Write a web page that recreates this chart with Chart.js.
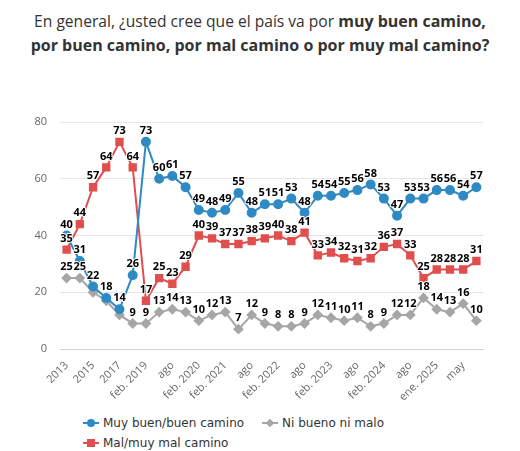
<!DOCTYPE html>
<html>
<head>
<meta charset="utf-8">
<script src="https://cdn.jsdelivr.net/npm/chart.js@4"></script>
<style>
  body { margin: 0; background: #fff; width: 520px; height: 451px; overflow: hidden; position: relative; }
  #titulo { position: absolute; top: 9px; left: 0; width: 520px; text-align: center;
    font-family: "Open Sans", sans-serif; font-size: 15.6px; line-height: 24px; color: #333; }
  #titulo b { font-weight: 700; font-size: 16px; }
  #wrap { position: absolute; top: 60px; left: 0; width: 520px; height: 350px; }
  #leyenda { position: absolute; top: 413px; left: 83px; width: 360px;
    font-family: "DejaVu Sans", sans-serif; font-size: 12px; color: #333; }
  .item { display: inline-block; margin-right: 18px; height: 20px; line-height: 20px; white-space: nowrap; }
  .ico { display: inline-block; position: relative; width: 16px; height: 10px; margin-right: 4px; vertical-align: -1px; }
  .ico .ln { position: absolute; left: 0; top: 4px; width: 16px; height: 2px; }
  .ico .mk { position: absolute; }
</style>
</head>
<body>
<div id="titulo">En general, ¿usted cree que el país va por <b>muy buen camino,<br>por buen camino, por mal camino o por muy mal camino?</b></div>
<div id="wrap"><canvas id="grafico" width="520" height="350"></canvas></div>
<div id="leyenda">
  <span class="item"><span class="ico"><span class="ln" style="background:#2f8ac4"></span><span class="mk" style="left:4px;top:1px;width:8px;height:8px;border-radius:50%;background:#2f8ac4"></span></span>Muy buen/buen camino</span><span class="item"><span class="ico"><span class="ln" style="background:#a6a6a6"></span><span class="mk" style="left:5px;top:2px;width:6px;height:6px;transform:rotate(45deg);background:#a6a6a6"></span></span>Ni bueno ni malo</span><br>
  <span class="item"><span class="ico"><span class="ln" style="background:#e04e4e"></span><span class="mk" style="left:4px;top:1px;width:8px;height:8px;background:#e04e4e"></span></span>Mal/muy mal camino</span>
</div>
<script>
  const fechas = ['2013', '2014', '2015', '2016', '2017', '2018', 'feb. 2019', 'may', 'ago', 'nov',
    'feb. 2020', 'ago', 'feb. 2021', 'may', 'ago', 'nov', 'feb. 2022', 'may', 'ago', 'nov',
    'feb. 2023', 'may', 'ago', 'nov', 'feb. 2024', 'may', 'ago', 'nov', 'ene. 2025', 'mar', 'may', 'ago'];

  const buenCamino = [40, 31, 22, 18, 14, 26, 73, 60, 61, 57, 49, 48, 49, 55, 48, 51,
    51, 53, 48, 54, 54, 55, 56, 58, 53, 47, 53, 53, 56, 56, 54, 57];
  const niBuenoNiMalo = [25, 25, 20, 17, 12, 9, 9, 13, 14, 13, 10, 12, 13, 7, 12, 9,
    8, 8, 9, 12, 11, 10, 11, 8, 9, 12, 12, 18, 14, 13, 16, 10];
  const malCamino = [35, 44, 57, 64, 73, 64, 17, 25, 23, 29, 40, 39, 37, 37, 38, 39,
    40, 38, 41, 33, 34, 32, 31, 32, 36, 37, 33, 25, 28, 28, 28, 31];

  const ticksY = [0, 20, 40, 60, 80];

  // etiquetas ocultas en el original (se solapan con la serie azul)
  const ocultas = { 1: [2, 3, 4] };

  const etiquetasDatos = {
    id: 'etiquetasDatos',
    afterDatasetsDraw(chart) {
      const ctx = chart.ctx;
      ctx.save();
      ctx.font = 'bold 11px "Open Sans", sans-serif';
      ctx.textAlign = 'center';
      ctx.textBaseline = 'middle';
      ctx.lineJoin = 'round';
      chart.data.datasets.forEach((ds, di) => {
        const meta = chart.getDatasetMeta(di);
        meta.data.forEach((pt, i) => {
          if (ocultas[di] && ocultas[di].includes(i)) return;
          const txt = String(ds.data[i]);
          const y = pt.y - 11;
          ctx.strokeStyle = '#fff';
          ctx.lineWidth = 2;
          ctx.strokeText(txt, pt.x, y);
          ctx.fillStyle = '#000';
          ctx.fillText(txt, pt.x, y);
        });
      });
      ctx.restore();
    }
  };

  const ctx = document.getElementById('grafico').getContext('2d');
  new Chart(ctx, {
    type: 'line',
    data: {
      labels: fechas,
      datasets: [
        {
          label: 'Muy buen/buen camino',
          data: buenCamino,
          borderColor: '#2f8ac4',
          backgroundColor: '#2f8ac4',
          pointStyle: 'circle',
          pointRadius: 4,
          borderWidth: 2,
          tension: 0
        },
        {
          label: 'Ni bueno ni malo',
          data: niBuenoNiMalo,
          borderColor: '#a6a6a6',
          backgroundColor: '#a6a6a6',
          pointStyle: 'rectRot',
          pointRadius: 4,
          borderWidth: 2,
          tension: 0
        },
        {
          label: 'Mal/muy mal camino',
          data: malCamino,
          borderColor: '#e04e4e',
          backgroundColor: '#e04e4e',
          pointStyle: 'rect',
          pointRadius: 4.5,
          borderWidth: 2,
          tension: 0
        }
      ]
    },
    options: {
      responsive: false,
      animation: false,
      layout: { padding: { top: 62, right: 37, left: 0, bottom: 0 } },
      plugins: {
        legend: { display: false },
        tooltip: { enabled: false }
      },
      elements: { point: { borderWidth: 0 } },
      scales: {
        x: {
          offset: true,
          grid: { display: false },
          border: { color: '#ccd6eb', width: 1 },
          afterFit: s => { s.height = 61; },
          ticks: {
            autoSkip: false,
            maxRotation: 45,
            minRotation: 45,
            color: '#666',
            padding: 2,
            font: { family: '"Open Sans", sans-serif', size: 11 },
            callback: function (v, i) { return i % 2 === 0 ? this.getLabelForValue(v) : ''; }
          }
        },
        y: {
          min: 0,
          max: 80,
          afterFit: s => { s.width = 60; },
          afterBuildTicks: s => { s.ticks = ticksY.map(v => ({ value: v })); },
          grid: { color: '#e6e6e6', drawTicks: false },
          border: { display: false },
          ticks: {
            color: '#666',
            padding: 13,
            font: { family: '"Open Sans", sans-serif', size: 11 }
          }
        }
      }
    },
    plugins: [etiquetasDatos]
  });
</script>
</body>
</html>
